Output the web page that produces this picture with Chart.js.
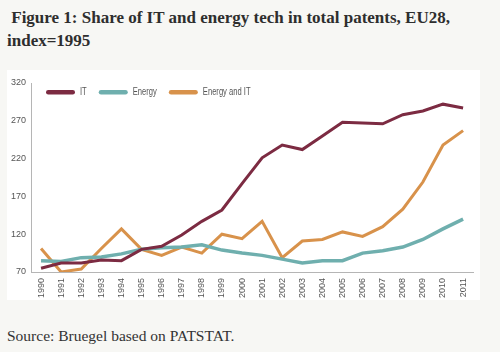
<!DOCTYPE html>
<html>
<head>
<meta charset="utf-8">
<script src="https://cdn.jsdelivr.net/npm/chart.js@4/dist/chart.umd.min.js"></script>
<style>
  html, body { margin: 0; padding: 0; }
  body { width: 500px; height: 352px; background: #f7f7f4; position: relative; overflow: hidden; }
  #title {
    position: absolute; left: 7px; top: 6px; width: 480px;
    font-family: "Liberation Serif", serif; font-weight: bold; font-size: 17px;
    line-height: 23px; color: #2e2e2e;
  }
  #panel { position: absolute; left: 7px; top: 70px; width: 473px; height: 230px; background: #fff; }
  #source {
    position: absolute; left: 7px; top: 327px;
    font-family: "Liberation Serif", serif; font-size: 15.5px; color: #333;
  }
</style>
</head>
<body>
<div id="title">&nbsp;Figure 1: Share of IT and energy tech in total patents, EU28,<br>index=1995</div>
<div id="panel"><canvas id="js-chart-canvas" width="473" height="230"></canvas></div>
<div id="source">Source: Bruegel based on PATSTAT.</div>
<script>
// Figure 1 - IT / energy patents, index 1995 = 100

const years = ["1990", "1991", "1992", "1993", "1994", "1995", "1996", "1997",
  "1998", "1999", "2000", "2001", "2002", "2003", "2004", "2005", "2006",
  "2007", "2008", "2009", "2010", "2011"];

const itValues = [75, 82, 82, 86, 85, 100, 104, 119, 137, 152, 187, 221, 238,
  232, 250, 268, 267, 266, 278, 283, 292, 287];

const energyValues = [85, 84, 89, 90, 94, 100, 102, 103, 106, 99, 95, 92, 87,
  82, 85, 85, 95, 98, 103, 113, 127, 140];

const energyItValues = [101, 70, 74, 101, 127, 100, 92, 103, 95, 120, 114, 137,
  89, 111, 113, 123, 117, 130, 153, 189, 238, 257];

const yTicks = [70, 120, 170, 220, 270, 320];

const tickFont = { family: "'Liberation Sans', 'DejaVu Sans', sans-serif", size: 9 };

const canvasContext = document.querySelector("#js-chart-canvas").getContext("2d");

function lineSet(label, data, color, width) {
  return {
    label: label,
    data: data,
    borderColor: color,
    backgroundColor: color,
    borderWidth: width,
    pointRadius: 0,
    tension: 0,
  };
}

// legend drawn inside the plot area, top-left (text squeezed to look condensed)
const insideLegend = {
  id: "insideLegend",
  afterDraw(chart) {
    const { ctx, chartArea: { left, top } } = chart;
    const squeeze = 0.76;
    let x = left + 15;
    const y = top + 9;
    ctx.save();
    ctx.font = "10px 'Liberation Sans', 'DejaVu Sans', sans-serif";
    ctx.textBaseline = "middle";
    chart.data.datasets.forEach((ds) => {
      ctx.fillStyle = ds.borderColor;
      ctx.beginPath();
      ctx.roundRect(x, y - 2, 29, 4.5, 2.25);
      ctx.fill();
      x += 29 + 5;
      ctx.save();
      ctx.translate(x, y);
      ctx.scale(squeeze, 1);
      ctx.fillStyle = "#555";
      ctx.fillText(ds.label, 0, 0);
      ctx.restore();
      x += ctx.measureText(ds.label).width * squeeze + 12;
    });
    ctx.restore();
  },
};

const weightChart = new Chart(canvasContext, {
  type: "line",
  data: {
    labels: years,
    datasets: [
      lineSet("IT", itValues, "#7c2b42", 3),
      lineSet("Energy", energyValues, "#6fafae", 3.5),
      lineSet("Energy and IT", energyItValues, "#d8924b", 3),
    ],
  },
  options: {
    responsive: false,
    animation: false,
    layout: { padding: { top: 13, right: 5, left: 0, bottom: 0 } },
    plugins: {
      tooltip: { enabled: false },
      legend: { display: false },
    },
    scales: {
      x: {
        offset: true,
        grid: { display: false, drawTicks: false },
        border: { display: true, color: "#b5b5b5", width: 1 },
        ticks: {
          color: "#555",
          font: tickFont,
          minRotation: 90,
          maxRotation: 90,
          padding: 6,
          autoSkip: false,
        },
        afterFit(scale) { scale.height = 28; },
      },
      y: {
        min: 70,
        max: 320,
        afterBuildTicks(scale) { scale.ticks = yTicks.map(v => ({ value: v })); },
        grid: { display: false, drawTicks: false },
        border: { display: true, color: "#b5b5b5", width: 1 },
        ticks: { color: "#555", font: tickFont, padding: 5 },
        afterFit(scale) { scale.width = 24; },
      },
    },
  },
  plugins: [insideLegend],
});
</script>
</body>
</html>
